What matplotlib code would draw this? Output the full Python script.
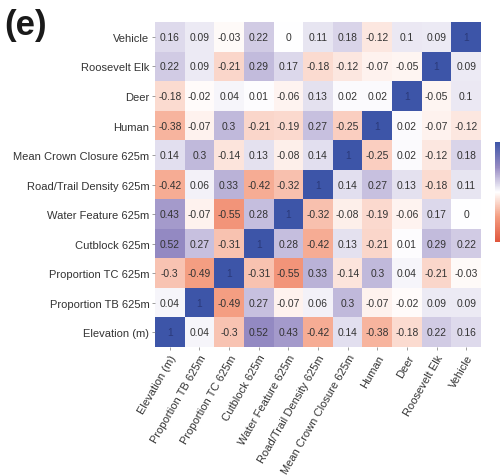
import numpy as np
import matplotlib
matplotlib.use("Agg")
import matplotlib.pyplot as plt
from matplotlib.colors import LinearSegmentedColormap

plt.rcParams['font.family'] = ['Liberation Sans', 'DejaVu Sans']

variables = ["Elevation (m)", "Proportion TB 625m", "Proportion TC 625m",
             "Cutblock 625m", "Water Feature 625m", "Road/Trail Density 625m",
             "Mean Crown Closure 625m", "Human", "Deer", "Roosevelt Elk", "Vehicle"]

# correlation rows, same order as variables
elevation = [1, 0.04, -0.3, 0.52, 0.43, -0.42, 0.14, -0.38, -0.18, 0.22, 0.16]
prop_tb = [0.04, 1, -0.49, 0.27, -0.07, 0.06, 0.3, -0.07, -0.02, 0.09, 0.09]
prop_tc = [-0.3, -0.49, 1, -0.31, -0.55, 0.33, -0.14, 0.3, 0.04, -0.21, -0.03]
cutblock = [0.52, 0.27, -0.31, 1, 0.28, -0.42, 0.13, -0.21, 0.01, 0.29, 0.22]
water = [0.43, -0.07, -0.55, 0.28, 1, -0.32, -0.08, -0.19, -0.06, 0.17, 0]
road = [-0.42, 0.06, 0.33, -0.42, -0.32, 1, 0.14, 0.27, 0.13, -0.18, 0.11]
crown = [0.14, 0.3, -0.14, 0.13, -0.08, 0.14, 1, -0.25, 0.02, -0.12, 0.18]
human = [-0.38, -0.07, 0.3, -0.21, -0.19, 0.27, -0.25, 1, 0.02, -0.07, -0.12]
deer = [-0.18, -0.02, 0.04, 0.01, -0.06, 0.13, 0.02, 0.02, 1, -0.05, 0.1]
elk = [0.22, 0.09, -0.21, 0.29, 0.17, -0.18, -0.12, -0.07, -0.05, 1, 0.09]
vehicle = [0.16, 0.09, -0.03, 0.22, 0, 0.11, 0.18, -0.12, 0.1, 0.09, 1]

corr = np.array([elevation, prop_tb, prop_tc, cutblock, water, road,
                 crown, human, deer, elk, vehicle])
n = len(variables)

cmap = LinearSegmentedColormap.from_list(
    "bwo",
    [(0.0, "#e0553c"), (0.25, "#f49c80"), (0.5, "#ffffff"),
     (0.75, "#978bc3"), (1.0, "#3d55a8")])

fig = plt.figure(figsize=(5.0, 4.77), dpi=100)
ax = fig.add_axes([0.31, 0.2704, 0.652, 0.681])

mesh = ax.pcolormesh(np.arange(n + 1), np.arange(n + 1), corr, cmap=cmap,
                     vmin=-1, vmax=1, edgecolors="face", linewidth=0)
for i in range(n):
    for j in range(n):
        v = corr[i, j]
        txt = f"{v:g}"
        ax.text(j + 0.5, i + 0.5, txt, ha="center", va="center",
                fontsize=7.4, color="#2b3a7a" if v == 1 else "#333333")

ax.set_xlim(0, n)
ax.set_ylim(0, n)
ax.set_xticks(np.arange(n) + 0.5)
ax.set_yticks(np.arange(n) + 0.5)
ax.set_xticklabels(variables, rotation=60, ha="right", rotation_mode="anchor",
                   fontsize=8.0, color="#333333")
ax.set_yticklabels(variables, fontsize=8.0, color="#333333")
ax.tick_params(axis="both", length=2.0, width=0.5, color="#777777", pad=2)
for s in ax.spines.values():
    s.set_visible(False)

cax = fig.add_axes([0.99, 0.49, 0.03, 0.21])
cb = fig.colorbar(mesh, cax=cax)
cb.outline.set_visible(False)
cax.set_yticks([])

fig.text(0.008, 0.982, "(e)", fontsize=25, fontweight="bold", ha="left",
         va="top", color="#1a1a1a")

fig.savefig("out.png", dpi=100)
